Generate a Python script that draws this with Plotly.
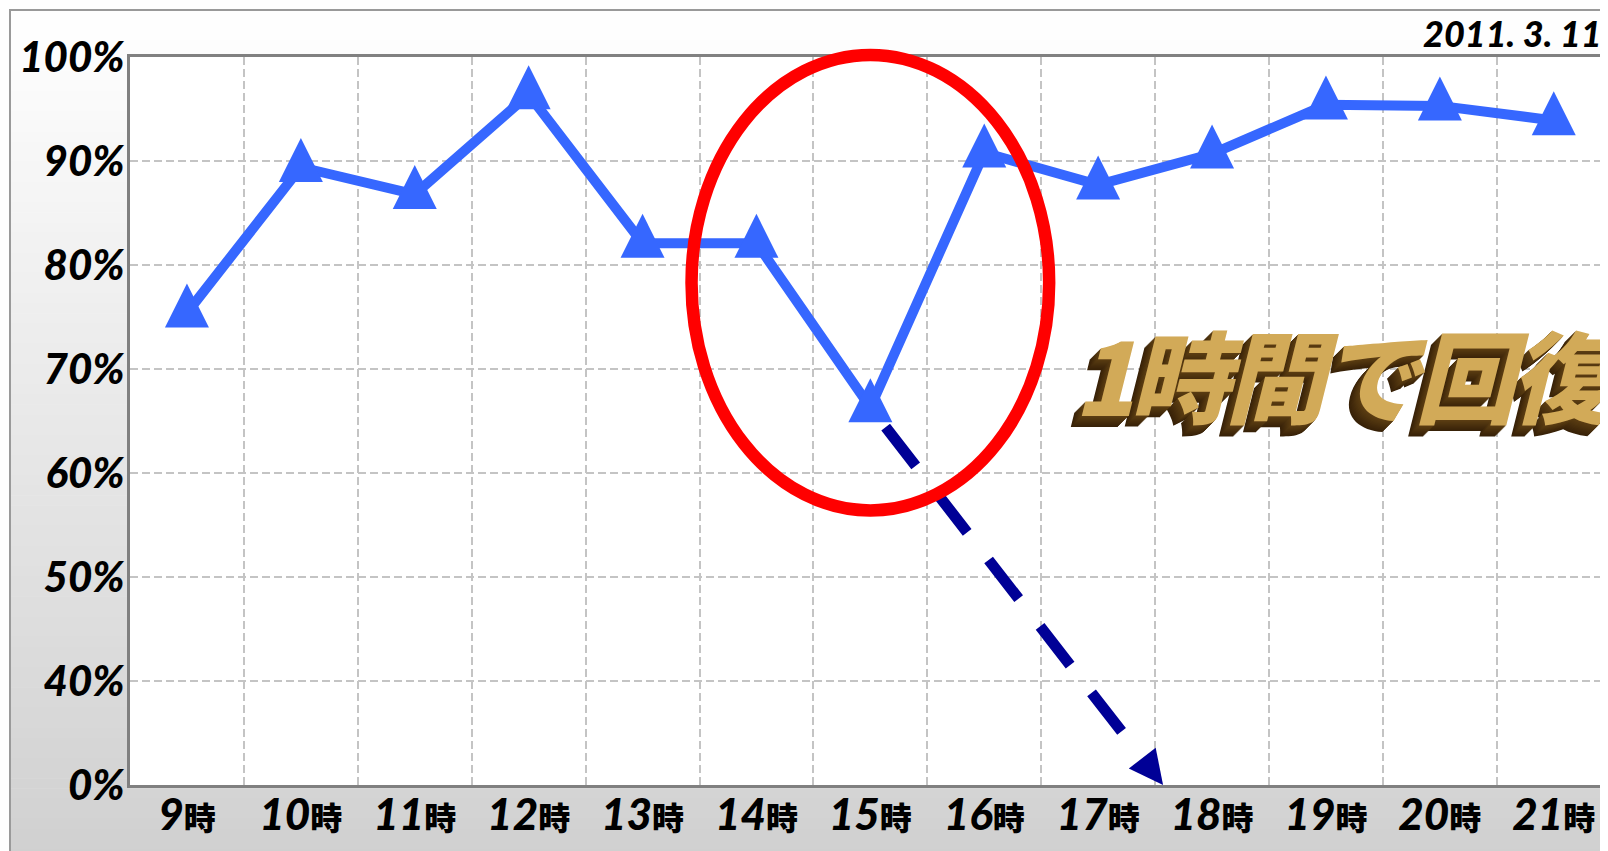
import plotly.graph_objects as go

# ---------------- data ----------------
hours = [9, 10, 11, 12, 13, 14, 15, 16, 17, 18, 19, 20, 21]
hour_labels = ["9", "10", "11", "12", "13", "14", "15", "16", "17", "18", "19", "20", "21"]
hour_suffix = "時"
rate = [75.4, 89.4, 86.8, 96.4, 82.1, 82.1, 66.3, 90.8, 87.7, 90.7, 95.4, 95.3, 93.9]

projection_hours = [15, 17.57]
projection_rate = [66.3, 0]

ytick_values = [0, 40, 50, 60, 70, 80, 90, 100]
ytick_labels = ["0%", "40%", "50%", "60%", "70%", "80%", "90%", "100%"]

highlight_hour = 15
highlight_halfwidth = 1.57          # in hours
highlight_rate_span = [56.4, 100.2]  # in %

date_label = "2011. 3. 11"
headline = "1時間で回復！"

# ---------------- geometry (page pixels; the page body has an 8px margin) ----------------
W, H = 1608, 851
OFF = 8
PLOT_LEFT, PLOT_TOP, PLOT_BOTTOM = 130, 57, 785      # page pixels
L = PLOT_LEFT - OFF
T = PLOT_TOP - OFF
B = H - (PLOT_BOTTOM - OFF)
R = 0
PW, PH = W - L - R, H - T - B
CAT_PX = 113.9
X_RANGE = [8.5, 8.5 + PW / CAT_PX]
Y_RANGE = [30, 100]


def axis_pos(v):
    # broken axis: 0..40 % squeezed into one grid cell
    return v if v >= 40 else 30 + v / 4.0


def fx(px):
    return (px - OFF - L) / PW


def fy(py):
    return (H - B - (py - OFF)) / PH


def hx(h):
    return (h - X_RANGE[0]) / (X_RANGE[1] - X_RANGE[0])


def vy(v):
    return (axis_pos(v) - Y_RANGE[0]) / (Y_RANGE[1] - Y_RANGE[0])


BLUE = "#3667ff"
NAVY = "#000096"

fig = go.Figure()

# projection (dashed navy arrow)
fig.add_trace(go.Scatter(
    x=projection_hours,
    y=[axis_pos(v) for v in projection_rate],
    mode="lines+markers",
    line=dict(color=NAVY, width=11,
              dash="0px,25px,49px,35px,49px,35px,49px,35px,49px,35px,49px,300px"),
    marker=dict(symbol="arrow-up", size=[0, 34], color=NAVY, angleref="previous",
                opacity=1, line=dict(width=0)),
    hoverinfo="skip",
))

# main series
fig.add_trace(go.Scatter(
    x=hours,
    y=[axis_pos(v) for v in rate],
    mode="lines+markers",
    line=dict(color=BLUE, width=10),
    marker=dict(symbol="arrow-down", angle=180, standoff=29.3, size=44, color=BLUE,
                opacity=1, line=dict(width=0)),
    hoverinfo="skip",
))

# ---------------- background ----------------
shapes = []
n_bands = 84
top_px, bot_px = 10, H + OFF
for i in range(n_bands):
    p0 = top_px + (bot_px - top_px) * i / n_bands
    p1 = top_px + (bot_px - top_px) * (i + 1) / n_bands
    t = ((p0 + p1) / 2 - top_px) / (bot_px - top_px)
    g = round(255 - (255 - 208) * t)
    shapes.append(dict(type="rect", xref="paper", yref="paper",
                       x0=fx(10), x1=fx(W + 20), y0=fy(p1 + 0.6), y1=fy(p0),
                       fillcolor=f"rgb({g},{g},{g})", line=dict(width=0), layer="below"))
# outer frame
shapes.append(dict(type="rect", xref="paper", yref="paper",
                   x0=fx(10), x1=fx(W + 40), y0=fy(H + 40), y1=fy(10),
                   fillcolor="rgba(0,0,0,0)", line=dict(color="#9a9a9a", width=2), layer="below"))
# white plot area
shapes.append(dict(type="rect", xref="paper", yref="paper", x0=0, x1=1.01, y0=0, y1=1,
                   fillcolor="white", line=dict(width=0), layer="below"))
# red highlight ellipse
shapes.append(dict(type="circle", xref="paper", yref="paper",
                   x0=hx(highlight_hour - highlight_halfwidth),
                   x1=hx(highlight_hour + highlight_halfwidth),
                   y0=vy(highlight_rate_span[0]), y1=vy(highlight_rate_span[1]),
                   line=dict(color="#ff0000", width=12.5), fillcolor="rgba(0,0,0,0)",
                   layer="above"))

TICK_FONT = dict(family="Lato, Roboto, sans-serif", size=42, color="black",
                 weight=900, style="italic")

x_ticktext = [f"{h}<span style='font-size:32px;font-family:Noto Sans CJK JP;font-style:normal'>{hour_suffix}</span>"
              for h in hour_labels]

headline_text = f"<span style='letter-spacing:-5px'>{headline}</span>"

fig.update_layout(
    width=W, height=H,
    margin=dict(l=L, r=R, t=T, b=B, pad=0, autoexpand=False),
    paper_bgcolor="white",
    plot_bgcolor="white",
    showlegend=False,
    hovermode=False,
    shapes=shapes,
    xaxis=dict(
        range=X_RANGE, tickmode="array", tickvals=hours, ticktext=x_ticktext,
        showgrid=False, zeroline=False, ticks="", automargin=False,
        showline=True, linecolor="#808080", linewidth=3, mirror=True,
        tickfont=dict(family="Lato, Roboto, sans-serif", size=44, color="black",
                      weight=900, style="italic"),
        ticklabelstandoff=-11,
        minor=dict(tick0=8.5, dtick=1, showgrid=True, gridcolor="#c4c4c4",
                   gridwidth=2, griddash="8px,4px", ticks=""),
    ),
    yaxis=dict(
        range=Y_RANGE, tickmode="array", automargin=False,
        tickvals=[axis_pos(v) for v in ytick_values], ticktext=ytick_labels,
        showgrid=True, gridcolor="#c4c4c4", gridwidth=2, griddash="8px,4px",
        zeroline=False, ticks="",
        showline=True, linecolor="#808080", linewidth=3, mirror=False,
        tickfont=TICK_FONT,
        ticklabelstandoff=-6,
    ),
    annotations=[
        dict(text=date_label, xref="paper", yref="paper", x=fx(1604), y=fy(33),
             xanchor="right", yanchor="middle", showarrow=False,
             font=dict(family="Lato, Roboto, sans-serif", size=36, color="black",
                       weight=900, style="italic")),
        dict(text=headline_text, xref="paper", yref="paper", x=fx(1072), y=fy(372),
             xanchor="left", yanchor="middle", showarrow=False,
             font=dict(family="Noto Sans CJK JP", size=100, color="#d2aa58",
                       weight=900, style="italic",
                       shadow="-1px 1px 0 #5a3c12, -2px 2px 0 #573a11, -3px 3px 0 #533710, "
                              "-4px 4px 0 #50350f, -5px 5px 0 #4c320e, -6px 6px 0 #492f0d, "
                              "-7px 7px 0 #452c0c, -8px 8px 0 #42290b, -9px 9px 0 #3e270a, "
                              "-10px 10px 0 #3b2409, -11px 11px 0 #382208")),
    ],
)

fig.write_html("out.html")
